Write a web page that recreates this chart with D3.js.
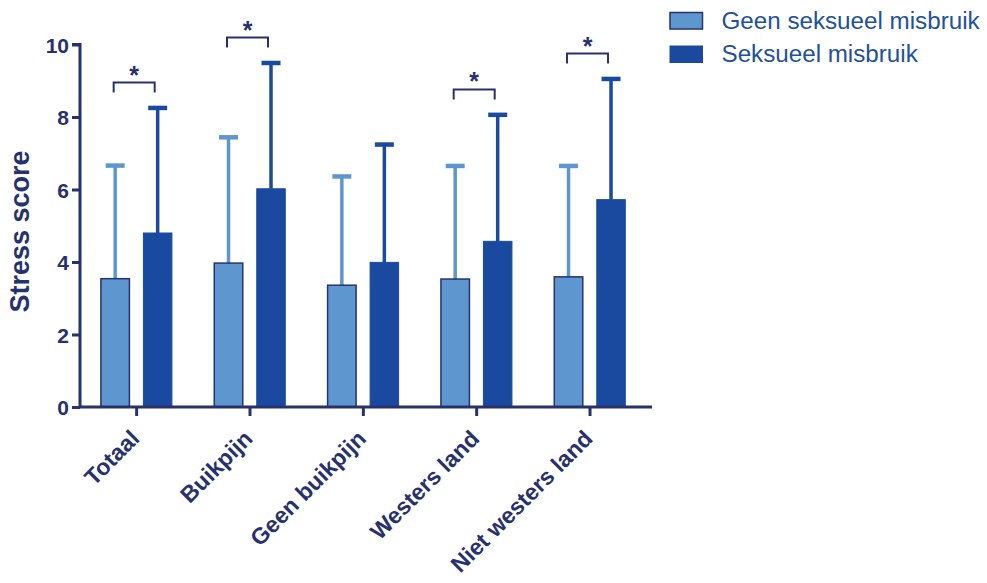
<!DOCTYPE html>
<html>
<head>
<meta charset="utf-8">
<script src="https://cdn.jsdelivr.net/npm/d3@7"></script>
<style>
  html, body { margin: 0; padding: 0; background: #fff; }
  svg { display: block; font-family: "Liberation Sans", Arial, sans-serif; }
</style>
</head>
<body>
<svg id="chart" width="987" height="583"></svg>
<script>
// Categories and group means with upper SD bars
const categories = ["Totaal", "Buikpijn", "Geen buikpijn", "Westers land", "Niet westers land"];
const seriesNames = ["Geen seksueel misbruik", "Seksueel misbruik"];
const meanGeen = [3.54, 3.97, 3.36, 3.53, 3.59];
const errGeen = [6.66, 7.44, 6.36, 6.65, 6.65];
const meanMisbruik = [4.80, 6.02, 3.99, 4.57, 5.72];
const errMisbruik = [8.25, 9.49, 7.24, 8.06, 9.05];
const significant = [true, true, false, true, true];
const yTicks = [0, 2, 4, 6, 8, 10];

const navy = "#27316e";
const light = "#5e96d0";
const dark = "#1a4a9f";
const colors = [light, dark];

const svg = d3.select("#chart");

const x = d3.scaleBand().domain(categories).range([80, 646.7]).paddingInner(0).paddingOuter(0);
const y = d3.scaleLinear().domain([0, 10]).range([407, 44.5]);
const barW = 28.5;
const barOffset = [-21.5, 21]; // centre offsets of the two bars in each group

const rows = categories.map((c, i) => ({
  cat: c,
  vals: [
    { s: 0, mean: meanGeen[i], err: errGeen[i] },
    { s: 1, mean: meanMisbruik[i], err: errMisbruik[i] }
  ],
  sig: significant[i]
}));

const groups = svg.selectAll("g.group").data(rows).join("g")
  .attr("class", "group")
  .attr("transform", d => `translate(${x(d.cat) + x.bandwidth() / 2},0)`);

// error bars (drawn before the bars so the stem sits behind)
groups.each(function(d) {
  const g = d3.select(this);
  d.vals.forEach(v => {
    const cx = barOffset[v.s];
    g.append("line")
      .attr("x1", cx).attr("x2", cx)
      .attr("y1", y(v.mean)).attr("y2", y(v.err))
      .attr("stroke", colors[v.s]).attr("stroke-width", 3.5);
    g.append("line")
      .attr("x1", cx - 9.5).attr("x2", cx + 9.5)
      .attr("y1", y(v.err)).attr("y2", y(v.err))
      .attr("stroke", colors[v.s]).attr("stroke-width", 4.5);
  });
});

// bars
groups.selectAll("rect.bar").data(d => d.vals).join("rect")
  .attr("class", "bar")
  .attr("x", v => barOffset[v.s] - barW / 2)
  .attr("width", barW)
  .attr("y", v => y(v.mean))
  .attr("height", v => y(0) - y(v.mean))
  .attr("fill", v => colors[v.s])
  .attr("stroke", v => v.s === 0 ? navy : dark)
  .attr("stroke-width", v => v.s === 0 ? 1.5 : 1);

// significance brackets
groups.filter(d => d.sig).each(function(d) {
  const g = d3.select(this);
  const top = y(d3.max(d.vals, v => v.err) + 0.7);
  const x1 = barOffset[0] - 1.5, x2 = barOffset[1] - 3;
  g.append("path")
    .attr("d", `M${x1},${top + 10}V${top}H${x2}V${top + 10}`)
    .attr("fill", "none").attr("stroke", navy).attr("stroke-width", 2);
  g.append("text")
    .attr("x", (x1 + x2) / 2).attr("y", top + 1)
    .attr("text-anchor", "middle")
    .attr("fill", navy).attr("font-size", 25).attr("font-weight", "bold")
    .text("*");
});

// y axis
const yAxis = d3.axisLeft(y).tickValues(yTicks).tickFormat(d3.format("d")).tickSize(8).tickPadding(3);
const ya = svg.append("g").attr("transform", "translate(80,0)").call(yAxis);
ya.select(".domain").attr("stroke", navy).attr("stroke-width", 3).attr("d", `M-8,${y(10)}H0V${y(0)}`);
ya.selectAll(".tick line").attr("stroke", navy).attr("stroke-width", 3);
ya.selectAll(".tick text").attr("fill", navy).attr("font-size", 21).attr("font-weight", "bold")
  .attr("font-family", "Liberation Sans, Arial, sans-serif").attr("dy", "0.36em");

// x axis
const xAxis = d3.axisBottom(x).tickSize(9).tickPadding(4);
const xa = svg.append("g").attr("transform", `translate(0,${y(0)})`).call(xAxis);
xa.select(".domain").attr("stroke", navy).attr("stroke-width", 3).attr("d", "M80,0H652");
xa.selectAll(".tick line").attr("stroke", navy).attr("stroke-width", 3);
xa.selectAll(".tick text")
  .attr("fill", navy).attr("font-size", 23).attr("font-weight", "bold")
  .attr("font-family", "Liberation Sans, Arial, sans-serif")
  .attr("text-anchor", "end")
  .attr("dy", "0")
  .attr("transform", "translate(4,33) rotate(-45)")
  .attr("y", 0).attr("x", 0);

// y title
svg.append("text")
  .attr("transform", `translate(29,${231.5}) rotate(-90)`)
  .attr("text-anchor", "middle")
  .attr("fill", navy).attr("font-size", 27).attr("font-weight", "bold")
  .text("Stress score");

// legend
const legend = svg.append("g").attr("transform", "translate(670,12.5)");
seriesNames.forEach((name, i) => {
  const row = legend.append("g").attr("transform", `translate(0,${i * 33.5})`);
  row.append("rect").attr("x", 0).attr("y", 0).attr("width", 32.5).attr("height", 16.5)
    .attr("fill", colors[i]).attr("stroke", i === 0 ? navy : dark).attr("stroke-width", i === 0 ? 1.5 : 1);
  row.append("text").attr("x", 51.5).attr("y", 16)
    .attr("fill", "#2150a3").attr("font-size", 24.2)
    .text(name);
});
</script>
</body>
</html>
